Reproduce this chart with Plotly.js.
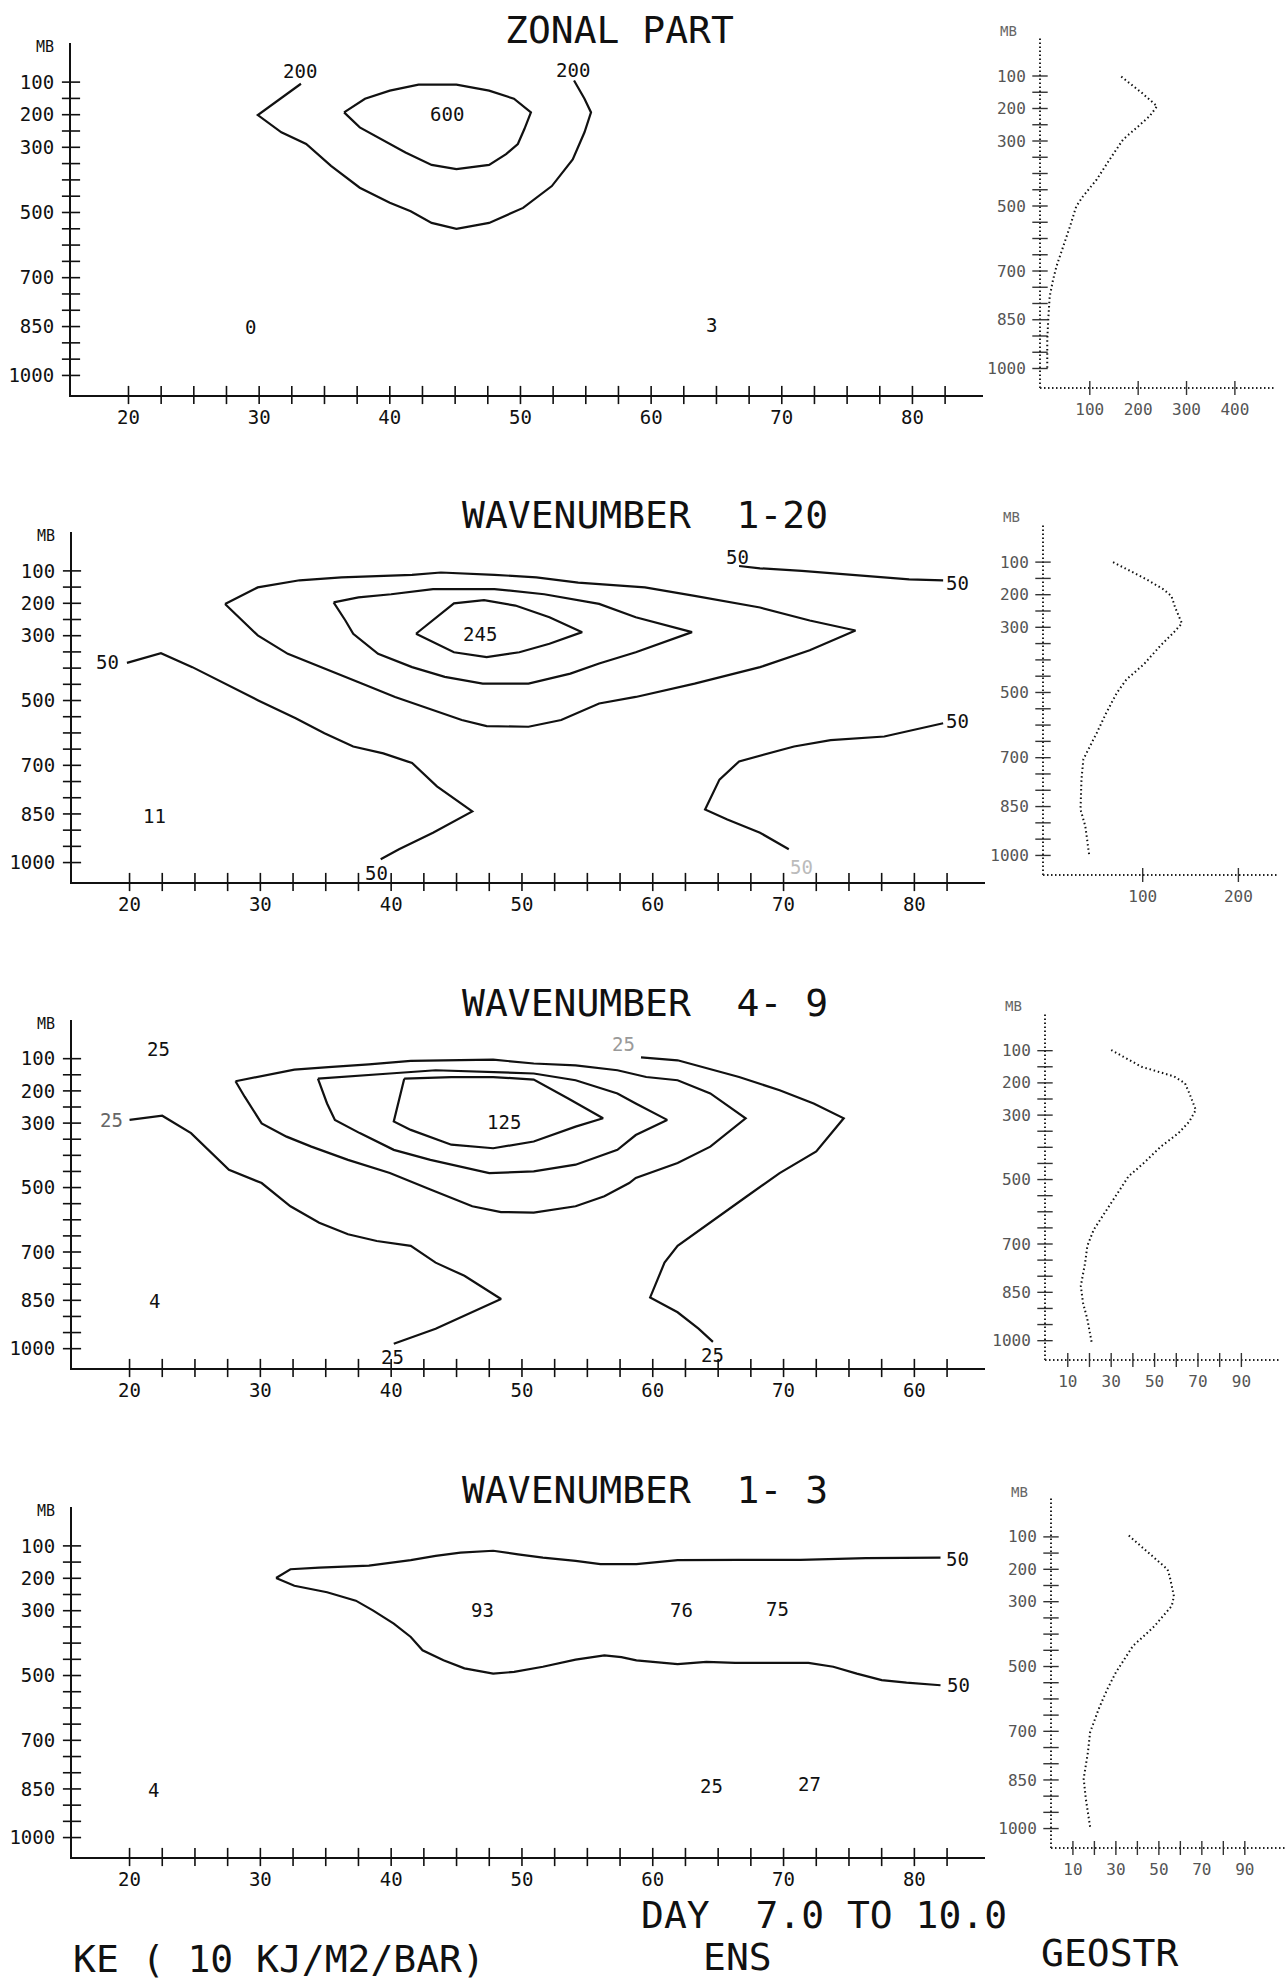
<!DOCTYPE html>
<html><head><meta charset="utf-8">
<script src="https://cdn.plot.ly/plotly-3.0.1.min.js"></script>
<style>html,body{margin:0;padding:0;background:#fff;}#chart{width:1288px;height:1981px;}</style>
</head><body><div id="chart"></div>
<script>
// ---------------- DATA ----------------
// common tick arrays
const latTickVals = [20,30,40,50,60,70,80];
const latTickText = ['20','30','40','50','60','70','80'];
const latTickText3 = ['20','30','40','50','60','70','60']; // as printed in panel 3
const latMinor = [20,22.5,25,27.5,30,32.5,35,37.5,40,42.5,45,47.5,50,52.5,55,57.5,60,62.5,65,67.5,70,72.5,75,77.5,80,82.5];
const pLevels = [100,150,200,250,300,350,400,450,500,550,600,650,700,750,800,850,900,950,1000];
const pLabelVals = [100,200,300,500,700,850,1000];
const pLabelText = ['100','200','300','500','700','850','1000'];

// Panel 1: ZONAL PART contours (lat, mb)
const zon200Lat = [33.2,29.9,31.7,33.6,35.5,37.7,40.0,41.6,43.2,45.1,47.6,50.2,52.4,54.0,54.9,55.4,54.9,54.1];
const zon200P   = [105,201,254,290,357,424,470,496,532,550,532,486,419,337,254,193,151,95];
const zon600Lat = [36.5,38.1,40.0,42.2,45.1,47.6,49.5,50.8,50.3,49.8,48.9,47.6,45.1,43.2,41.2,39.3,37.7,36.5];
const zon600P   = [193,151,126,108,108,126,151,193,244,290,321,354,367,354,316,275,239,193];
const zonLabText = ['200','200','600','0','3'];
const zonLabLat  = [33.1,54.0,44.4,29.3,64.6];
const zonLabP    = [67,64,198,851,845];
// Panel 1 profile
const zonProfV = [165,207,239,224,197,169,141,114,86,72,59,45,31,24,17,14,12,12];
const zonProfP = [102,151,193,223,259,295,357,419,470,501,563,625,686,727,779,851,913,1000];
const zonProfTicks = [100,200,300,400];

// Panel 2: WAVENUMBER 1-20
const w120aLat = [19.8,22.4,24.8,27.3,29.8,32.7,34.9,37.1,39.4,41.6,43.5,46.2,43.2,40.6,39.2];
const w120aP   = [384,354,397,448,499,555,601,642,663,693,765,842,908,959,990];
const w120bLat = [82.2,77.7,73.6,70.8,66.6,65.1,64.0,65.7,68.2,70.4];
const w120bP   = [570,611,622,642,688,744,836,867,908,959];
const w120cLat = [66.6,68.2,71.4,75.8,79.6,82.2];
const w120cP   = [85,92,100,115,126,129];
const w120r1Lat = [27.3,29.8,33.0,36.2,41.6,43.8,47.9,51.1,54.3,59.4,63.2,68.2,72.0,75.5,72.0,68.2,63.2,58.7,55.9,53.0,50.5,47.3,45.4,43.2,40.3,37.8,35.2,32.1,29.8,27.3];
const w120r1P   = [202,151,129,120,112,105,112,120,136,151,177,213,253,284,345,397,448,489,509,560,581,579,560,530,489,448,407,356,299,202];
const w120r2Lat = [35.6,37.5,40.0,43.2,47.9,51.7,55.9,58.7,63.0,58.7,55.9,53.7,50.5,47.0,44.1,41.6,39.0,37.1,36.5,35.6];
const w120r2P   = [197,182,172,156,156,172,202,243,289,351,386,417,448,448,427,397,356,294,253,197];
const w120r3Lat = [41.9,43.5,44.8,47.1,49.5,52.1,54.6,52.1,49.8,47.3,44.8,41.9];
const w120r3P   = [294,243,200,190,207,243,289,325,351,366,351,294];
const w120LabText = ['50','50','50','50','50','245','11','50'];
const w120LabLat  = [18.35,38.9,83.3,66.5,83.3,46.8,21.9,71.4];
const w120LabP    = [381,1031,562,57,136,296,857,1015];
const w120LabCol  = ['#111','#111','#111','#111','#111','#111','#111','#bbb'];
const w120ProfV = [69,104,122,130,134,141,132,118,101,83,73,62,52,42,38,36,35,35,40,44];
const w120ProfP = [100,153,184,204,240,288,317,358,414,460,501,562,624,685,705,767,828,859,910,997];
const w120ProfTicks = [100,200];

// Panel 3: WAVENUMBER 4-9
const w49aLat = [59.1,61.9,66.6,69.7,72.3,74.6,72.5,69.7,67.2,64.4,61.9,60.9,59.8,61.9,63.5,64.6];
const w49aP   = [96,105,157,198,239,285,388,455,527,609,681,733,841,887,938,979];
const w49bLat = [20.0,22.5,24.7,27.6,30.1,32.3,34.5,36.7,38.9,41.5,43.4,45.6,48.4,46.2,43.4,40.2];
const w49bP   = [290,277,331,445,486,558,609,645,666,681,733,774,846,887,938,985];
const w49r1Lat = [28.1,32.6,35.2,38.3,41.5,44.6,47.8,50.9,54.1,57.3,59.5,61.9,64.4,67.1,64.4,61.9,58.7,58.2,56.3,54.1,50.9,48.4,46.2,43.0,41.5,39.9,36.7,33.9,32.0,30.1,28.8,28.1];
const w49r1P   = [170,134,126,118,107,105,103,115,121,136,157,167,208,285,373,424,470,486,527,558,578,576,558,506,481,455,414,373,342,301,218,170];
const w49r2Lat = [34.4,37.1,39.9,43.4,47.8,50.9,54.1,57.3,58.7,61.1,58.7,57.3,54.1,50.9,47.5,43.0,40.2,37.6,35.7,35.1,34.4];
const w49r2P   = [162,155,146,136,141,146,167,208,239,290,337,383,429,450,455,414,383,331,290,239,162];
const w49r3Lat = [41.0,44.6,47.8,50.9,53.5,56.2,54.1,50.9,47.8,44.6,41.5,40.2,41.0];
const w49r3P   = [162,157,157,165,223,285,311,357,378,367,321,295,162];
const w49LabText = ['25','25','25','125','4','25','25'];
const w49LabLat  = [22.2,18.6,57.8,48.6,21.9,40.1,64.6];
const w49LabP    = [69,290,56,295,851,1026,1020];
const w49LabCol  = ['#111','#666','#999','#111','#111','#111','#111'];
const w49ProfV = [30,44,59,64,66,69,66,61,53,45,38,34,28,22,19,18,16,17,19,21];
const w49ProfP = [98,150,180,201,232,284,320,356,397,449,490,531,593,655,706,758,830,882,933,1005];
const smallProfTicks = [10,20,30,40,50,60,70,80,90];
const smallProfLabVals = [10,30,50,70,90];

// Panel 4: WAVENUMBER 1-3
const w13aLat = [31.2,32.3,34.5,38.3,41.5,43.4,45.3,47.8,49.7,51.6,54.1,56.0,58.75,61.9,66.6,71.3,76.3,79.1,82.0];
const w13aP   = [199,172,167,161,144,131,121,115,126,136,146,156,156,144,143,143,138,136,136];
const w13bLat = [31.2,32.6,35.1,37.3,38.6,40.2,41.5,42.4,44.0,45.6,47.8,49.4,51.6,54.1,56.3,57.6,58.75,61.9,64.1,66.3,71.9,73.8,75.6,77.5,79.4,82.0];
const w13bP   = [199,223,243,269,299,340,381,422,453,478,494,489,473,451,438,443,453,465,458,461,461,473,494,514,522,530];
const w13LabText = ['50','50','93','76','75','25','27','4'];
const w13LabLat  = [83.3,83.4,47.0,62.2,69.5,64.5,72.0,21.8];
const w13LabP    = [141,530,299,299,294,841,836,852];
const w13ProfV = [36,43,49,54,55,56,57,56,52,48,43,38,34,30,26,22,18,17,15,16,18];
const w13ProfP = [96,137,170,200,221,252,283,313,344,375,406,436,477,518,570,631,703,764,846,908,995];

// ---------------- LAYOUT / DRAWING ----------------
const W = 1288, H = 1981;
const domX = (a,b)=>[a/W,b/W];
const domY = (t,b)=>[1-b/H,1-t/H];
const MONO = 'DejaVu Sans Mono, Liberation Mono, monospace';
const INK = '#111';
const latRange = [15.6,85.4];
const pRange = [1060,-20];
const mainBox = [[71,983,43,395],[72,985,532,882],[72,985,1020,1368],[72,985,1507,1857]];
const profBox = [[1040,1276,37,388],[1043,1278,523,875],[1045,1280,1012,1360],[1051,1285,1498,1848]];
const profRange = [[-3,485],[-4.2,241.4],[-0.5,107.8],[-0.2,108.7]];

const traces = [];
const layout = {width:W,height:H,margin:{l:0,r:0,t:0,b:0},paper_bgcolor:'#fff',plot_bgcolor:'rgba(0,0,0,0)',
  showlegend:false,shapes:[],annotations:[]};

function nm(i){return i===1?'':String(i);}
function contour(lat,p,k){
  traces.push({x:lat,y:p,xaxis:'x'+nm(k),yaxis:'y'+nm(k),mode:'lines',line:{color:INK,width:2.2},hoverinfo:'skip',cliponaxis:false});
}
function labels(txt,lat,p,k,cols){
  txt.forEach((t,j)=>layout.annotations.push({text:t,x:lat[j],y:p[j],xref:'x'+nm(k),yref:'y'+nm(k),showarrow:false,
    xanchor:'center',yanchor:'middle',font:{family:MONO,size:19,color:cols?cols[j]:INK}}));
}
function txt(t,x,y,size,color){
  layout.annotations.push({text:t.replace(/ /g,'\u00a0'),x:x/W,y:1-y/H,xref:'paper',yref:'paper',showarrow:false,
    xanchor:'center',yanchor:'middle',font:{family:MONO,size:size,color:color||INK}});
}

// main panels
const mainTickText = [latTickText,latTickText,latTickText3,latTickText];
for(let i=0;i<4;i++){
  const k=i+1, b=mainBox[i];
  layout['xaxis'+nm(k)] = {domain:domX(b[0],b[1]),range:latRange,anchor:'y'+nm(k),showline:true,linecolor:INK,linewidth:2,
    showgrid:false,zeroline:false,tickmode:'array',tickvals:latTickVals,ticktext:mainTickText[i],ticks:'outside',ticklen:4,
    tickcolor:'rgba(0,0,0,0)',tickfont:{family:MONO,size:19,color:INK},fixedrange:true};
  layout['yaxis'+nm(k)] = {domain:domY(b[2],b[3]),range:pRange,anchor:'x'+nm(k),showline:true,linecolor:INK,linewidth:2,
    showgrid:false,zeroline:false,tickmode:'array',tickvals:pLabelVals,ticktext:pLabelText,ticks:'outside',ticklen:11,
    tickcolor:'rgba(0,0,0,0)',tickfont:{family:MONO,size:19,color:INK},fixedrange:true};
  traces.push({x:latMinor,y:latMinor.map(()=>pRange[0]),xaxis:'x'+nm(k),yaxis:'y'+nm(k),mode:'markers',cliponaxis:false,hoverinfo:'skip',
    marker:{symbol:'line-ns',size:13,color:INK,line:{width:1.6,color:INK}}});
  traces.push({x:pLevels.map(()=>latRange[0]),y:pLevels,xaxis:'x'+nm(k),yaxis:'y'+nm(k),mode:'markers',cliponaxis:false,hoverinfo:'skip',
    marker:{symbol:'line-ew',size:13,color:INK,line:{width:1.6,color:INK}}});
  txt('MB',(b[0]-26),b[2]+4,15);
}
// profile panels
const profCurves = [[zonProfV,zonProfP],[w120ProfV,w120ProfP],[w49ProfV,w49ProfP],[w13ProfV,w13ProfP]];
const profTicks = [zonProfTicks,w120ProfTicks,smallProfTicks,smallProfTicks];
const profLabs = [zonProfTicks,w120ProfTicks,smallProfLabVals,smallProfLabVals];
for(let i=0;i<4;i++){
  const k=i+5, b=profBox[i];
  layout['xaxis'+k] = {domain:domX(b[0],b[1]),range:profRange[i],anchor:'y'+k,showline:false,showgrid:false,zeroline:false,
    tickmode:'array',tickvals:profLabs[i],ticktext:profLabs[i].map(String),ticks:'outside',ticklen:7,tickcolor:'rgba(0,0,0,0)',
    tickfont:{family:MONO,size:16,color:'#555'},fixedrange:true};
  layout['yaxis'+k] = {domain:domY(b[2],b[3]),range:pRange,anchor:'x'+k,showline:false,showgrid:false,zeroline:false,
    tickmode:'array',tickvals:pLabelVals,ticktext:pLabelText,ticks:'outside',ticklen:10,tickcolor:'rgba(0,0,0,0)',
    tickfont:{family:MONO,size:16,color:'#555'},fixedrange:true};
  layout.shapes.push({type:'line',xref:'x'+k+' domain',yref:'y'+k+' domain',x0:0,x1:1,y0:0,y1:0,line:{color:'#222',width:2,dash:'1.5px,2.5px'}});
  layout.shapes.push({type:'line',xref:'x'+k+' domain',yref:'y'+k+' domain',x0:0,x1:0,y0:0,y1:1,line:{color:'#222',width:2,dash:'1.5px,2.5px'}});
  traces.push({x:profTicks[i],y:profTicks[i].map(()=>pRange[0]),xaxis:'x'+k,yaxis:'y'+k,mode:'markers',cliponaxis:false,hoverinfo:'skip',
    marker:{symbol:'line-ns',size:10,color:'#333',line:{width:1.4,color:'#333'}}});
  traces.push({x:pLevels.map(()=>profRange[i][0]),y:pLevels,xaxis:'x'+k,yaxis:'y'+k,mode:'markers',cliponaxis:false,hoverinfo:'skip',
    marker:{symbol:'line-ew',size:11,color:'#333',line:{width:1.4,color:'#333'}}});
  traces.push({x:profCurves[i][0],y:profCurves[i][1],xaxis:'x'+k,yaxis:'y'+k,mode:'lines',cliponaxis:false,hoverinfo:'skip',
    line:{color:INK,width:2,dash:'1.5px,2.8px'}});
  txt('MB',b[0]-32,b[2]-6,14,'#666');
}

// contours panel 1
contour(zon200Lat,zon200P,1); contour(zon600Lat,zon600P,1);
labels(zonLabText,zonLabLat,zonLabP,1);
// panel 2
[[w120aLat,w120aP],[w120bLat,w120bP],[w120cLat,w120cP],[w120r1Lat,w120r1P],[w120r2Lat,w120r2P],[w120r3Lat,w120r3P]].forEach(c=>contour(c[0],c[1],2));
labels(w120LabText,w120LabLat,w120LabP,2,w120LabCol);
// panel 3
[[w49aLat,w49aP],[w49bLat,w49bP],[w49r1Lat,w49r1P],[w49r2Lat,w49r2P],[w49r3Lat,w49r3P]].forEach(c=>contour(c[0],c[1],3));
labels(w49LabText,w49LabLat,w49LabP,3,w49LabCol);
// panel 4
contour(w13aLat,w13aP,4); contour(w13bLat,w13bP,4);
labels(w13LabText,w13LabLat,w13LabP,4);

// titles & footer
txt('ZONAL PART',619,30,38);
txt('WAVENUMBER  1-20',645,515,38);
txt('WAVENUMBER  4- 9',645,1003,38);
txt('WAVENUMBER  1- 3',645,1490,38);
txt('DAY  7.0 TO 10.0',824,1915,38);
txt('KE ( 10 KJ/M2/BAR)',279,1959,38);
txt('ENS',737,1957,38);
txt('GEOSTR',1109,1953,38);

Plotly.newPlot('chart',traces,layout,{staticPlot:true,displayModeBar:false});
</script></body></html>
